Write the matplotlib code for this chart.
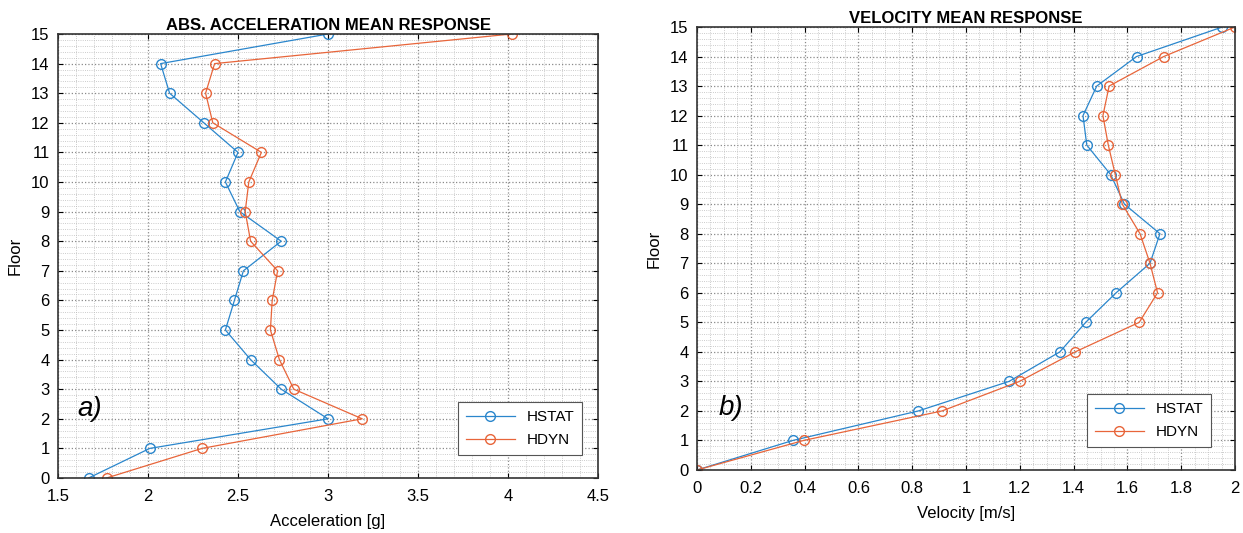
import matplotlib.pyplot as plt
from matplotlib.ticker import AutoMinorLocator, MultipleLocator, FormatStrFormatter

floors = list(range(16))

acc_hstat = [1.67, 2.01, 3.00, 2.74, 2.57, 2.43, 2.48, 2.53, 2.74, 2.51, 2.43, 2.50, 2.31, 2.12, 2.07, 3.00]
acc_hdyn = [1.77, 2.30, 3.19, 2.81, 2.73, 2.68, 2.69, 2.72, 2.57, 2.54, 2.56, 2.63, 2.36, 2.32, 2.37, 4.02]

vel_hstat = [0.0, 0.356, 0.823, 1.160, 1.349, 1.445, 1.558, 1.684, 1.721, 1.589, 1.538, 1.449, 1.435, 1.486, 1.634, 1.953]
vel_hdyn = [0.0, 0.396, 0.911, 1.199, 1.406, 1.644, 1.712, 1.684, 1.647, 1.581, 1.555, 1.529, 1.509, 1.532, 1.735, 2.0]

series_names = ["HSTAT", "HDYN"]
blue = "#2a86cc"
orange = "#e8653a"

W, H = 1243, 533
fig = plt.figure(figsize=(W / 100, H / 100), dpi=100)
plt.rcParams['font.family'] = ['Liberation Sans', 'DejaVu Sans']


def style_axes(ax, x_major, x_minor_div):
    ax.xaxis.set_major_locator(MultipleLocator(x_major))
    ax.xaxis.set_minor_locator(AutoMinorLocator(x_minor_div))
    ax.yaxis.set_major_locator(MultipleLocator(1))
    ax.yaxis.set_minor_locator(AutoMinorLocator(5))
    ax.xaxis.set_major_formatter(FormatStrFormatter('%g'))
    ax.grid(which='major', color='#8a8a8a', linestyle=':', linewidth=0.9)
    ax.grid(which='minor', color='#bbbbbb', linestyle=':', linewidth=0.6)
    ax.tick_params(which='both', direction='in', top=True, right=True, labelsize=12)
    ax.tick_params(axis='x', pad=8)
    ax.tick_params(axis='y', pad=6)
    ax.tick_params(which='minor', length=0)
    for s in ax.spines.values():
        s.set_linewidth(1.2)
        s.set_color('#333333')


def panel(rect, x1, x2, xlim, x_major, x_minor_div, title, xlabel, tag, tag_xy, leg_xy):
    ax = fig.add_axes(rect)
    ax.plot(x1, floors, '-o', color=blue, linewidth=0.9, markersize=7,
            markerfacecolor='none', markeredgewidth=1.0, label=series_names[0])
    ax.plot(x2, floors, '-o', color=orange, linewidth=0.9, markersize=7,
            markerfacecolor='none', markeredgewidth=1.0, label=series_names[1])
    ax.set_xlim(*xlim)
    ax.set_ylim(0, 15)
    style_axes(ax, x_major, x_minor_div)
    ax.set_title(title, fontsize=12, fontweight='bold', pad=3)
    ax.set_xlabel(xlabel, fontsize=12, labelpad=7)
    ax.set_ylabel("Floor", fontsize=12, labelpad=6)
    ax.text(tag_xy[0], tag_xy[1], tag, transform=ax.transAxes, fontsize=20,
            style='italic', ha='left', va='center')
    leg = ax.legend(loc='lower right', bbox_to_anchor=leg_xy, fontsize=11,
                    fancybox=False, framealpha=1, edgecolor='#555555',
                    handlelength=3.2, borderpad=0.5, labelspacing=0.6)
    leg.get_frame().set_linewidth(0.8)
    return ax


panel([58 / W, (H - 478) / H, (598 - 58) / W, (478 - 34) / H],
      acc_hstat, acc_hdyn, (1.5, 4.5), 0.5, 5,
      "ABS. ACCELERATION MEAN RESPONSE", "Acceleration [g]", "a)", (0.035, 0.155),
      (0.985, 0.035))

panel([697 / W, (H - 470) / H, (1235 - 697) / W, (470 - 27) / H],
      vel_hstat, vel_hdyn, (0, 2), 0.2, 4,
      "VELOCITY MEAN RESPONSE", "Velocity [m/s]", "b)", (0.04, 0.14),
      (0.97, 0.035))

fig.savefig("out.png", dpi=100)
